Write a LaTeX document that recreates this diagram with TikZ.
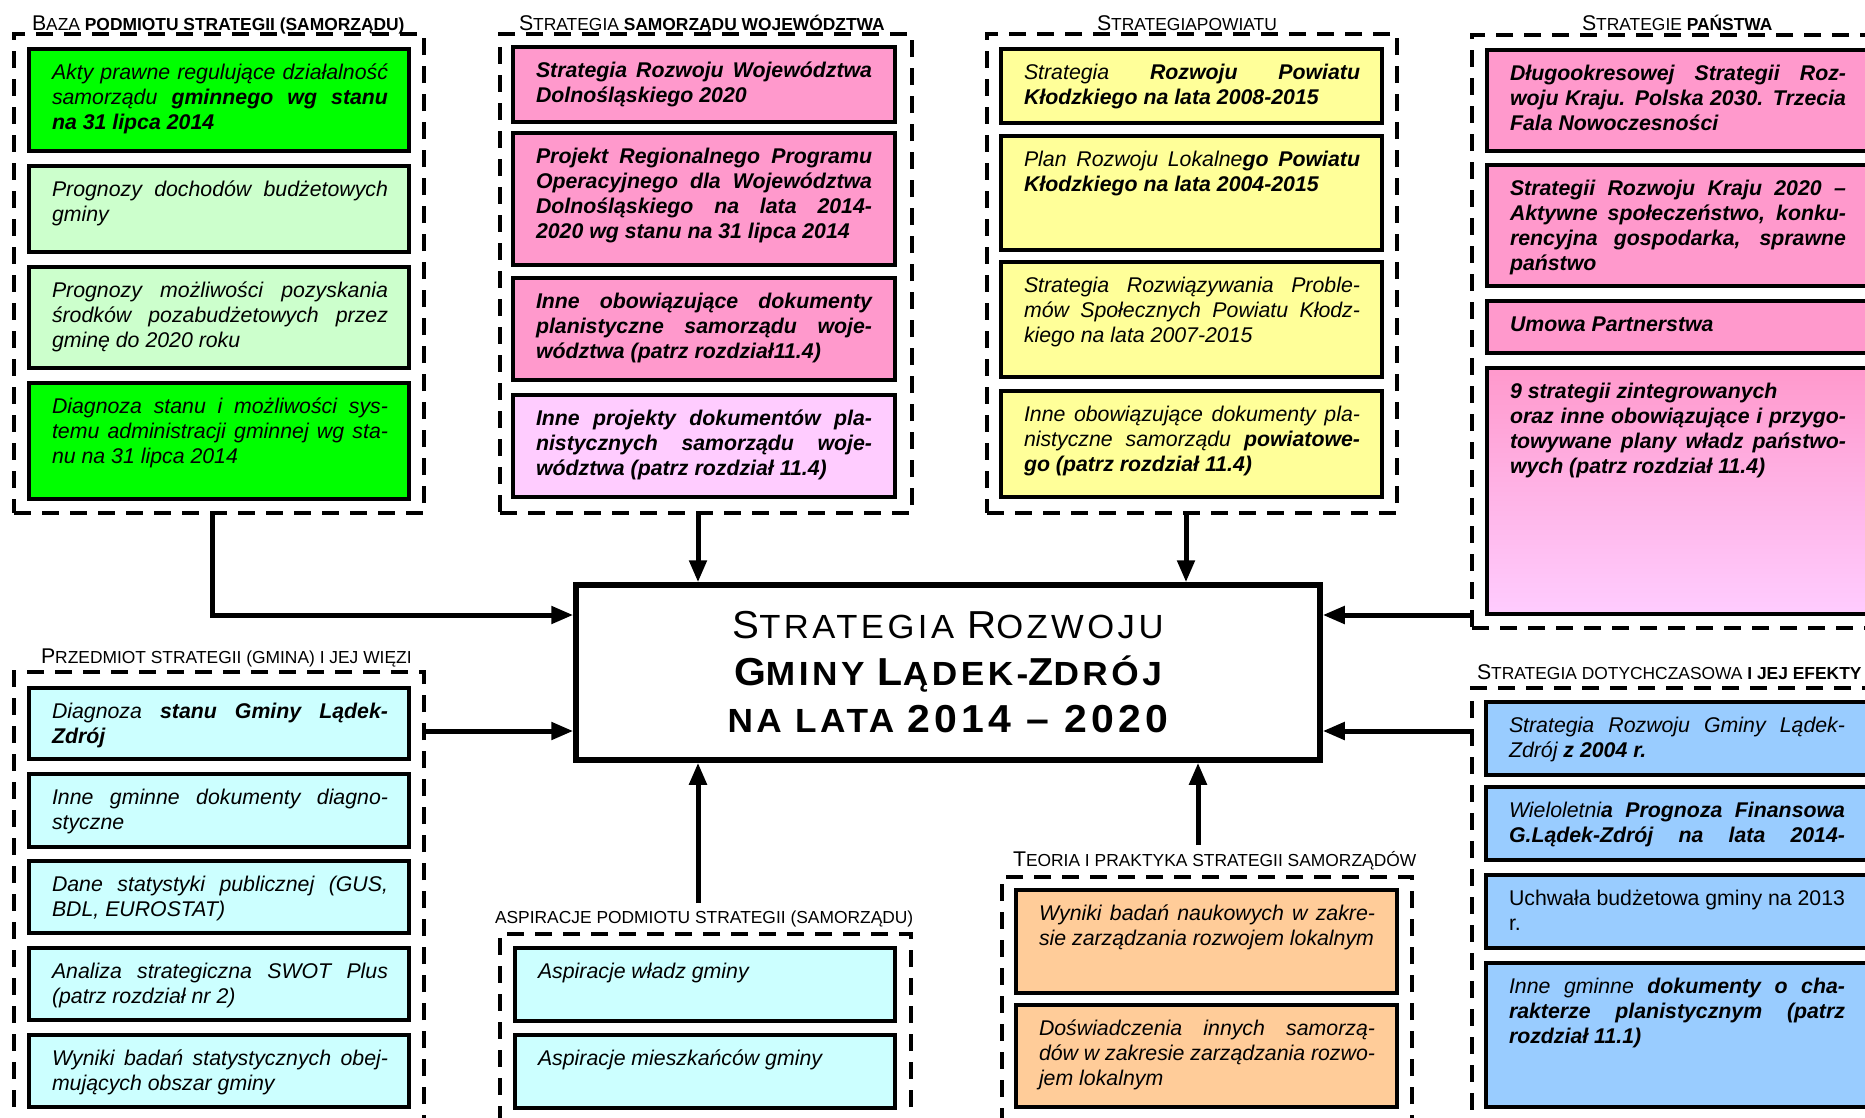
\documentclass[tikz,border=0pt]{standalone}
\usepackage{fontspec}
\setmainfont{Liberation Sans}
\newfontfamily\ttlfont[LetterSpace=10]{Liberation Sans}
\usepackage{graphicx}
\usetikzlibrary{arrows.meta}
\definecolor{cG}{HTML}{00FF00}
\definecolor{cLG}{HTML}{CCFFCC}
\definecolor{cP}{HTML}{FF99CC}
\definecolor{cLP}{HTML}{FFCCFF}
\definecolor{cY}{HTML}{FFFF99}
\definecolor{cC}{HTML}{CCFFFF}
\definecolor{cO}{HTML}{FFCC99}
\definecolor{cB}{HTML}{99CCFF}
\newcommand\capA[1]{{\fontsize{21.3}{20}\selectfont #1}}
\newcommand\capB[1]{{\fontsize{39}{47}\selectfont #1}}
\newcommand\jline[1]{\makebox[\linewidth][s]{#1}\\}
\newcommand\lline[1]{\makebox[\linewidth][l]{#1}}
\newcommand\btext[1]{\parbox[t]{336pt}{#1}}
\newcommand\mkbox[6]{\node[bx, fill=#2, minimum width=#5pt, minimum height=#6pt, anchor=north west] (#1) at (#3,#4) {};}
\newcommand\mktext[2]{\node[txt] (t#1) at ([xshift=23pt,yshift=-30.5pt]#1.north west) {\btext{#2}};}
\begin{document}
\begin{tikzpicture}[x=1pt,y=-1pt,
  grp/.style={draw, line width=3.5pt, dash pattern=on 17pt off 11pt, inner sep=0pt, outer sep=0pt},
  bx/.style={draw, line width=3.5pt, inner sep=0pt, outer sep=0pt},
  txt/.style={inner sep=0pt, outer sep=0pt, anchor=base west, font=\fontsize{21.3}{25}\selectfont\itshape},
  ttl/.style={inner sep=0pt, outer sep=0pt, anchor=base west, font=\fontsize{17.4}{20}\selectfont},
  mainbox/.style={draw, line width=5.5pt, fill=white, align=center, inner sep=0pt, font=\ttlfont\fontsize{33.5}{47}\selectfont},
  conn/.style={line width=5pt, -{Triangle[length=22pt,width=17pt]}}]
\useasboundingbox (0,0) rectangle (1865,1117);
\fill[white] (0,0) rectangle (1865,1117);
\clip (0,0) rectangle (1865,1117);

% ---------- group outlines ----------
\node[grp, minimum width=410pt, minimum height=479pt, anchor=north west] (g1) at (14,34) {};
\node[grp, minimum width=412pt, minimum height=479pt, anchor=north west] (g2) at (500,34) {};
\node[grp, minimum width=410pt, minimum height=479pt, anchor=north west] (g3) at (987,34) {};
\node[grp, minimum width=410pt, minimum height=593pt, anchor=north west] (g4) at (1472,35) {};
\node[grp, minimum width=410pt, minimum height=470pt, anchor=north west] (g5) at (14,672) {};
\node[grp, minimum width=411pt, minimum height=210pt, anchor=north west] (g6) at (500,934) {};
\node[grp, minimum width=410pt, minimum height=265pt, anchor=north west] (g7) at (1002,877) {};
\node[grp, minimum width=410pt, minimum height=455pt, anchor=north west] (g8) at (1472,688) {};

% ---------- titles ----------
\node[ttl] (T1) at (32,30) {\capA{B}AZA \textbf{PODMIOTU STRATEGII (SAMORZĄDU)}};
\node[ttl] (T2) at (519,30) {\capA{S}TRATEGIA \textbf{SAMORZĄDU WOJEWÓDZTWA}};
\node[ttl] (T3) at (1097,30) {\capA{S}TRATEGIAPOWIATU};
\node[ttl] (T4) at (1582,30) {\capA{S}TRATEGIE \textbf{PAŃSTWA}};
\node[ttl] (T5) at (41,663) {\capA{P}RZEDMIOT STRATEGII (GMINA) I JEJ WIĘZI};
\node[ttl] (T6) at (495,923) {ASPIRACJE PODMIOTU STRATEGII (SAMORZĄDU)};
\node[ttl] (T7) at (1013,866) {\capA{T}EORIA I PRAKTYKA STRATEGII SAMORZĄDÓW};
\node[ttl] (T8) at (1477,679) {\capA{S}TRATEGIA DOTYCHCZASOWA \textbf{I JEJ EFEKTY}};

% ---------- group 1: baza ----------
\mkbox{b11}{cG}{29}{49}{380}{102}
\mkbox{b12}{cLG}{29}{166}{380}{86}
\mkbox{b13}{cLG}{29}{267}{380}{101}
\mkbox{b14}{cG}{29}{383}{380}{116}
\mktext{b11}{\jline{Akty prawne regulujące działalność}\jline{samorządu \textbf{gminnego wg stanu}}\lline{\textbf{na 31 lipca 2014}}}
\mktext{b12}{\jline{Prognozy dochodów budżetowych}\lline{gminy}}
\mktext{b13}{\jline{Prognozy możliwości pozyskania}\jline{środków pozabudżetowych przez}\lline{gminę do 2020 roku}}
\mktext{b14}{\jline{Diagnoza stanu i możliwości sys-}\jline{temu administracji gminnej wg sta-}\lline{nu na 31 lipca 2014}}

% ---------- group 2: wojewodztwo ----------
\mkbox{b21}{cP}{513}{47}{382}{75}
\mkbox{b22}{cP}{513}{133}{382}{132}
\mkbox{b23}{cP}{513}{278}{382}{102}
\mkbox{b24}{cLP}{513}{395}{382}{102}
\mktext{b21}{\bfseries\jline{Strategia Rozwoju Województwa}\lline{Dolnośląskiego 2020}}
\mktext{b22}{\bfseries\jline{Projekt Regionalnego Programu}\jline{Operacyjnego dla Województwa}\jline{Dolnośląskiego na lata 2014-}\lline{2020 wg stanu na 31 lipca 2014}}
\mktext{b23}{\bfseries\jline{Inne obowiązujące dokumenty}\jline{planistyczne samorządu woje-}\lline{wództwa (patrz rozdział11.4)}}
\mktext{b24}{\bfseries\jline{Inne projekty dokumentów pla-}\jline{nistycznych samorządu woje-}\lline{wództwa (patrz rozdział 11.4)}}

% ---------- group 3: powiat ----------
\mkbox{b31}{cY}{1001}{49}{381}{74}
\mkbox{b32}{cY}{1001}{136}{381}{114}
\mkbox{b33}{cY}{1001}{262}{381}{115}
\mkbox{b34}{cY}{1001}{391}{381}{106}
\mktext{b31}{\jline{Strategia \textbf{Rozwoju Powiatu}}\lline{\textbf{Kłodzkiego na lata 2008-2015}}}
\mktext{b32}{\jline{Plan Rozwoju Lokalne\textbf{go Powiatu}}\lline{\textbf{Kłodzkiego na lata 2004-2015}}}
\mktext{b33}{\jline{Strategia Rozwiązywania Proble-}\jline{mów Społecznych Powiatu Kłodz-}\lline{kiego na lata 2007-2015}}
\mktext{b34}{\jline{Inne obowiązujące dokumenty pla-}\jline{nistyczne samorządu \textbf{powiatowe-}}\lline{\textbf{go (patrz rozdział 11.4)}}}

% ---------- group 4: panstwo ----------
\mkbox{b41}{cP}{1487}{50}{380}{101}
\mkbox{b42}{cP}{1487}{165}{380}{121}
\mkbox{b43}{cP}{1487}{301}{380}{52}
\node[bx, top color=cP, middle color=cP!65!cLP, bottom color=cLP, minimum width=380pt, minimum height=246pt, anchor=north west] (b44) at (1487,368) {};
\mktext{b41}{\bfseries\jline{Długookresowej Strategii Roz-}\jline{woju Kraju. Polska 2030. Trzecia}\lline{Fala Nowoczesności}}
\mktext{b42}{\bfseries\jline{Strategii Rozwoju Kraju 2020 –}\jline{Aktywne społeczeństwo, konku-}\jline{rencyjna gospodarka, sprawne}\lline{państwo}}
\mktext{b43}{\bfseries\lline{Umowa Partnerstwa}}
\mktext{b44}{\bfseries\lline{9 strategii zintegrowanych}\\\jline{oraz inne obowiązujące i przygo-}\jline{towywane plany władz państwo-}\lline{wych (patrz rozdział 11.4)}}

% ---------- group 5: przedmiot ----------
\mkbox{b51}{cC}{29}{688}{380}{71}
\mkbox{b52}{cC}{29}{774}{380}{73}
\mkbox{b53}{cC}{29}{861}{380}{72}
\mkbox{b54}{cC}{29}{948}{380}{72}
\mkbox{b55}{cC}{29}{1035}{380}{72}
\mktext{b51}{\jline{Diagnoza \textbf{stanu Gminy Lądek-}}\lline{\textbf{Zdrój}}}
\mktext{b52}{\jline{Inne gminne dokumenty diagno-}\lline{styczne}}
\mktext{b53}{\jline{Dane statystyki publicznej (GUS,}\lline{BDL, EUROSTAT)}}
\mktext{b54}{\jline{Analiza strategiczna SWOT Plus}\lline{(patrz rozdział nr 2)}}
\mktext{b55}{\jline{Wyniki badań statystycznych obej-}\lline{mujących obszar gminy}}

% ---------- group 6: aspiracje ----------
\mkbox{b61}{cC}{515}{948}{380}{73}
\mkbox{b62}{cC}{515}{1035}{380}{73}
\mktext{b61}{\lline{Aspiracje władz gminy}}
\mktext{b62}{\lline{Aspiracje mieszkańców gminy}}

% ---------- group 7: teoria ----------
\mkbox{b71}{cO}{1016}{890}{381}{103}
\mkbox{b72}{cO}{1016}{1005}{381}{102}
\mktext{b71}{\jline{Wyniki badań naukowych w zakre-}\lline{sie zarządzania rozwojem lokalnym}}
\mktext{b72}{\jline{Doświadczenia innych samorzą-}\jline{dów w zakresie zarządzania rozwo-}\lline{jem lokalnym}}

% ---------- group 8: dotychczasowa ----------
\mkbox{b81}{cB}{1486}{702}{381}{73}
\mkbox{b82}{cB}{1486}{787}{381}{73}
\mkbox{b83}{cB}{1486}{875}{381}{73}
\mkbox{b84}{cB}{1486}{963}{381}{144}
\mktext{b81}{\jline{Strategia Rozwoju Gminy Lądek-}\lline{Zdrój \textbf{z 2004 r.}}}
\mktext{b82}{\jline{Wieloletni\textbf{a Prognoza Finansowa}}\lline{\makebox[\linewidth][s]{\textbf{G.Lądek-Zdrój na lata 2014-}}}}
\mktext{b83}{\upshape\jline{Uchwała budżetowa gminy na 2013}\lline{r.}}
\mktext{b84}{\jline{Inne gminne \textbf{dokumenty o cha-}}\jline{\textbf{rakterze planistycznym (patrz}}\lline{\textbf{rozdział 11.1)}}}

% ---------- central box ----------
\node[mainbox, minimum width=744pt, minimum height=175pt] (main) at (948,672.5) {%
\resizebox{431pt}{\height}{\capB{S}TRATEGIA \capB{R}OZWOJU}\\
\resizebox{428pt}{\height}{\bfseries\capB{G}MINY \capB{L}ĄDEK-\capB{Z}DRÓJ}\\
\resizebox{441pt}{\height}{\bfseries NA LATA \capB{2014 – 2020}}};

% ---------- connectors ----------
\coordinate (a1) at ([xshift=-7pt]g1.south);
\coordinate (a2) at ([xshift=-8pt]g2.south);
\coordinate (a3) at ([xshift=-6pt]g3.south);
\coordinate (a4) at ([yshift=13pt]g4.south west);
\coordinate (a5) at ([yshift=-59pt]g5.north east);
\coordinate (a6) at ([xshift=-7.5pt,yshift=31pt]g6.north);
\coordinate (a7) at ([xshift=-9pt,yshift=32pt]g7.north);
\coordinate (a8) at ([yshift=-43pt]g8.north west);
\coordinate (m1) at ([yshift=57.5pt]main.west);
\draw[conn] (a1) |- (m1);
\draw[conn] (a2) -- (a2 |- main.north);
\draw[conn] (a3) -- (a3 |- main.north);
\draw[conn] (a4) -- (a4 -| main.east);
\draw[conn] (a5) -- (a5 -| main.west);
\draw[conn] (a6) -- (a6 |- main.south);
\draw[conn] (a7) -- (a7 |- main.south);
\draw[conn] (a8) -- (a8 -| main.east);
\end{tikzpicture}
\end{document}
